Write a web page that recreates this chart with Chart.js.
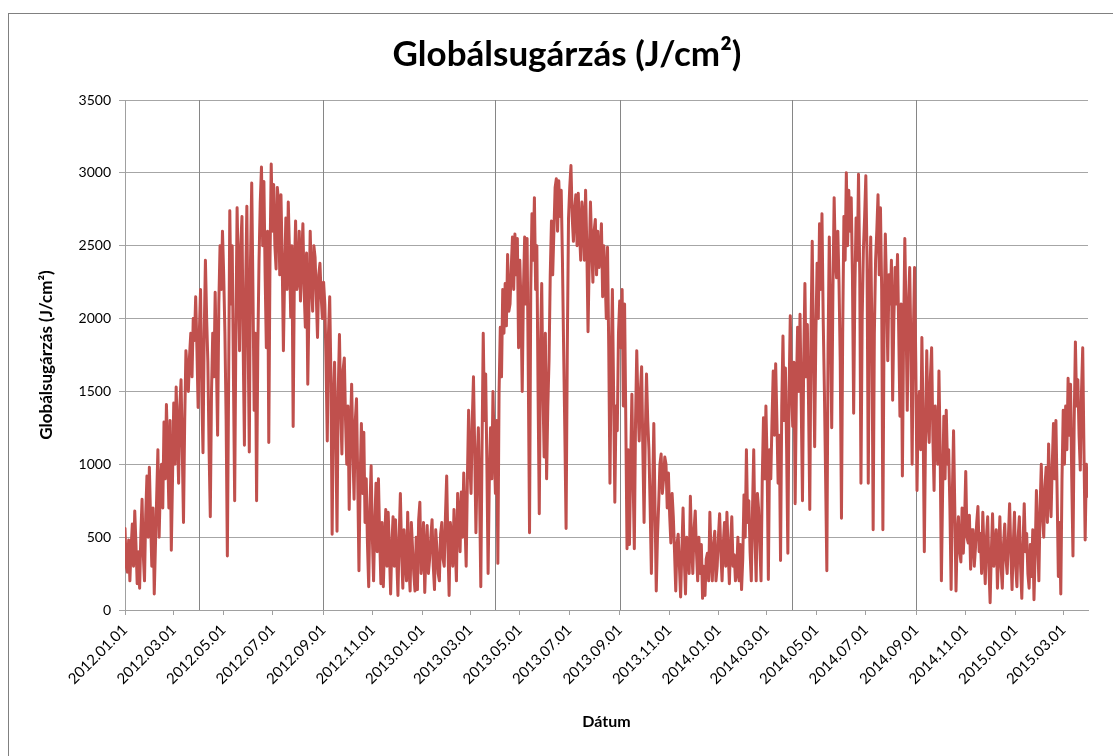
<!DOCTYPE html>
<html><head><meta charset="utf-8">
<script src="https://cdn.jsdelivr.net/npm/chart.js@4.4.0/dist/chart.umd.min.js"></script>
<style>
html,body{margin:0;padding:0;background:#fff;overflow:hidden;width:1113px;height:756px}
#frame{position:absolute;left:8px;top:13px;width:1200px;height:800px;border:1.5px solid #808080;box-sizing:border-box}
#wrap{position:absolute;left:0;top:0;width:1113px;height:756px}
</style></head><body>
<div id="frame"></div>
<div id="wrap"><canvas id="c" width="1113" height="756"></canvas></div>
<script>
// Global radiation (J/cm²), values every 1.5 days from 2012.01.01
const startDate = '2012.01.01';
const stepDays = 1.5;
const radiation2012 = [560,300,260,480,200,420,590,300,680,450,180,400,150,520,760,380,200,650,920,500,
 980,620,300,700,110,450,780,1100,500,850,1000,700,1290,900,1410,1100,700,1300,410,900,
 1420,1000,1530,1200,870,1400,1580,1100,600,1300,1780,1650,1500,1750,1900,1600,2000,1850,2150,1800,
 1390,1900,2200,1500,1080,1900,2400,2000,1700,1100,640,1500,1900,1600,2180,1700,1200,2100,2500,2200,
 2600,2300,1900,1300,370,1500,2740,2100,2500,1600,750,1900,2760,2300,1780,2500,2700,1800,1130,2200,
 2770,1900,1085,2400,2930,2200,1370,1900,750,1800,2400,2800,3040,2500,2940,2300,1800,2600,1150,2400,
 3060,2600,2920,2500,2340,2900,2800,2300,2850,2400,1780,2300,2690,2200,2800,2450,2010,2500,1260,2300,
 2670,2200,2260,2600,2120,2400,2650,2200,1940,2450,1550,2100,2600,2250,2050,2500,2420,2150,1870,2300,
 2380,2150,2000,2250,2100,1700,1160,1900,2150,1600,520,1400,1700,1200,540,1500,1890,1400,1070,1650,
 1730,1300,1000,1400,690,1200,1550,1100,760,1300,1450,900,270,900,1280,800,1220,600,900,450,
 160,700,990,500,200,600,870,400,900,500,180,600,160,450,690,300,670,400,110,450,
 640,300,620,350,100,500,800,400,150,550,350,200,670,300,130,600,420,250,130,500,
 140,620,740,250];
const radiation2013 = [350,600,120,400,580,250,350,500,620,300,140,550,420,250,200,520,
 600,350,300,650,920,450,100,600,500,300,690,450,200,800,650,400,810,500,940,600,
 300,900,1370,1000,800,1300,1600,1100,530,1000,1250,800,160,1100,1900,1300,1620,1000,250,900,
 1250,900,1500,1100,800,1300,320,1500,1940,1600,2200,1900,2240,1950,2440,2050,2100,2350,2560,2200,
 2580,2300,2550,1800,2400,2100,1500,2200,2560,2100,2550,1600,530,2200,2720,2400,2830,2200,2500,1500,
 660,1800,2240,1500,1050,1900,900,1400,1710,2300,2670,2300,2600,2900,2960,2600,2945,2700,2880,2400,
 1780,1200,560,1800,2690,2900,3050,2700,2530,2750,2850,2500,2860,2600,2400,2800,2700,2400,2880,2500,
 1910,2400,2800,2500,2250,2600,2680,2300,2600,2350,2440,2650,2150,2500,2300,2000,2490,1800,870,1700,
 2200,1500,740,1400,1230,1900,2120,1800,2200,1400,2100,1300,420,1100,450,1000,1480,900,420,1300,
 1780,1400,1160,1500,1670,1100,600,1200,1620,1300,1100,700,250,800,1280,700,130,500,730,1000,
 1070,800,900,1050,1000,700,940,650,460,800,640,400,130,450,520,300,90,400,700,350,
 110,500,450,250,780,450,250,550,680,400,200,500,250,450,80,300,100,350,390,200,
 670,350,200,450,540,200,300,500];
const radiation2014 = [660,400,200,450,600,300,670,400,180,450,640,300,
 380,200,250,500,200,450,140,350,790,500,1100,600,750,400,200,700,1100,500,200,800,
 690,450,200,900,1320,900,1400,1000,210,1100,900,1300,1640,1200,1690,1300,870,1200,340,1400,
 1880,1300,1660,1100,390,1500,2020,1500,1260,1700,730,1500,1940,1500,2030,1400,750,1700,2240,1600,
 1960,1400,690,1900,2530,1800,1120,1900,2380,2000,2650,2200,2720,2000,1500,900,270,1800,2560,2000,
 1250,2200,2830,2400,2280,2600,2240,1700,630,1900,2700,2400,3000,2500,2880,2600,2830,2300,1350,2200,
 2690,2400,2990,2300,870,2000,2470,2700,2980,2400,870,2100,2560,1900,550,1900,2400,2600,2850,2300,
 2760,2200,550,2000,2580,2200,1710,2300,2100,2400,1440,2000,2350,2100,2440,1900,1330,2100,920,1900,
 2550,2000,1370,2100,2350,1800,1000,1900,2350,1700,820,1400,1500,1100,1870,1300,400,1200,1780,1300,
 1150,1600,1800,1200,820,1400,1150,1000,1640,1100,200,800,1330,900,1370,1000,1100,700,140,800,
 1230,700,130,500,640,400,330,700,390,600,950,500,460,650,280,550,550,300,430,600,
 710,400,525,250,670,400,180,500,640,300,50,400,660,300,410,550,150,400,640,300,
 150,450,590,350,250,500,730,400,140,450,670,300];
const radiation2015 = [160,500,640,300,80,450,730,400,525,250,150,450,230,550,70,400,820,500,200,700,
 1000,650,500,850,980,600,1140,800,640,1000,1280,900,1300,800,230,600,110,900,1370,1000,
 1400,1100,1590,1200,1550,900,370,1300,1840,1400,1580,1200,960,1500,1800,1100,480,1000,780];

const tickDates = ['2012.01.01','2012.03.01','2012.05.01','2012.07.01','2012.09.01','2012.11.01',
 '2013.01.01','2013.03.01','2013.05.01','2013.07.01','2013.09.01','2013.11.01',
 '2014.01.01','2014.03.01','2014.05.01','2014.07.01','2014.09.01','2014.11.01',
 '2015.01.01','2015.03.01'];
const periodMarkers = ['2012.04.01','2012.09.01','2013.04.01','2013.09.01','2014.04.01','2014.09.01'];
const axisEnd = '2015.04.01';
const yTicks = [0,500,1000,1500,2000,2500,3000,3500];

function dayOf(s){
  const p = s.split('.').map(Number);
  const q = startDate.split('.').map(Number);
  return Math.round((Date.UTC(p[0],p[1]-1,p[2]) - Date.UTC(q[0],q[1]-1,q[2]))/86400000);
}
const values = radiation2012.concat(radiation2013, radiation2014, radiation2015);
const points = values.map((v,i)=>({x:i*stepDays, y:v}));
const tickDays = tickDates.map(dayOf);
const labelByDay = {};
tickDates.forEach((t,i)=>{labelByDay[tickDays[i]] = t;});

const markerPlugin = {
  id:'periodMarkers',
  beforeDatasetsDraw(chart){
    const {ctx, chartArea, scales} = chart;
    ctx.save();
    ctx.strokeStyle = '#868686';
    ctx.lineWidth = 1;
    periodMarkers.forEach(d=>{
      const px = Math.round(scales.x.getPixelForValue(dayOf(d))) + 0.5;
      ctx.beginPath();
      ctx.moveTo(px, chartArea.top);
      ctx.lineTo(px, chartArea.bottom);
      ctx.stroke();
    });
    ctx.restore();
  }
};

const FONT = 'Lato, "Liberation Sans", sans-serif';
new Chart(document.getElementById('c'), {
  type:'line',
  data:{datasets:[{data:points, borderColor:'#c0504d', borderWidth:3, pointRadius:0, tension:0, fill:false, borderJoinStyle:'round', borderCapStyle:'round'}]},
  options:{
    responsive:false, animation:false, events:[],
    layout:{padding:{left:46,right:25,top:0,bottom:0}},
    plugins:{
      legend:{display:false}, tooltip:{enabled:false},
      title:{display:true, text:'Globálsugárzás (J/cm²)', color:'#000',
        font:{family:FONT, size:35, weight:'bold', lineHeight:1.2}, padding:{top:33.5,bottom:24.5}}
    },
    scales:{
      x:{type:'linear', min:0, max:dayOf(axisEnd)-0.5,
        afterBuildTicks(s){ s.ticks = tickDays.map(v=>({value:v})); },
        afterFit(s){ s.height = 146; },
        ticks:{autoSkip:false, minRotation:45, maxRotation:45, color:'#000', padding:6,
          font:{family:FONT, size:15}, callback:(v)=>labelByDay[v]},
        grid:{drawOnChartArea:false, drawTicks:true, tickLength:5, color:'#a0a0a0'},
        border:{color:'#a0a0a0', width:1},
        title:{display:true, text:'Dátum', color:'#000', font:{family:FONT, size:16, weight:'bold', lineHeight:1.2}, padding:{top:0,bottom:24.4}}
      },
      y:{min:0, max:3500,
        afterBuildTicks(s){ s.ticks = yTicks.map(v=>({value:v})); },
        afterFit(s){ s.width = 125 - 46; },
        ticks:{color:'#000', padding:8, font:{family:FONT, size:14}, callback:(v)=>String(v)},
        grid:{color:'#a6a6a6', tickLength:6, lineWidth:1},
        border:{color:'#a0a0a0', width:1},
        title:{display:true, text:'Globálsugárzás (J/cm²)', color:'#000', font:{family:FONT, size:17, weight:'bold', lineHeight:1.2}, padding:{top:-10,bottom:0}}
      }
    }
  },
  plugins:[markerPlugin]
});
</script>
</body></html>
